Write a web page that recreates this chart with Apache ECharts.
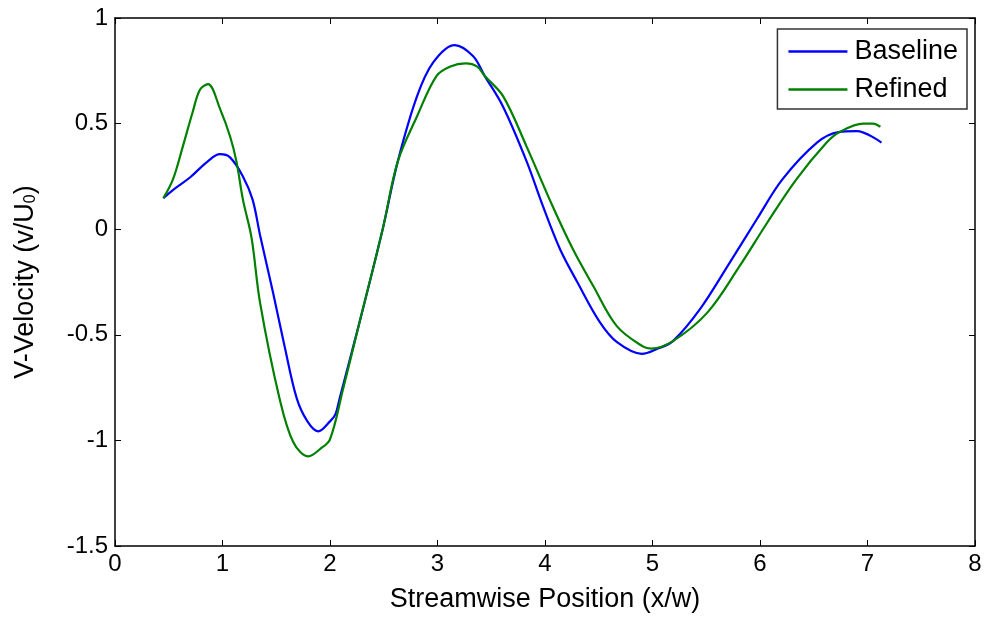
<!DOCTYPE html>
<html>
<head>
<meta charset="utf-8">
<script src="https://cdn.jsdelivr.net/npm/echarts@6/dist/echarts.min.js"></script>
<style>
  html, body { margin: 0; padding: 0; background: #fff; }
  #chart { width: 987px; height: 619px; }
</style>
</head>
<body>
<div id="chart"></div>
<script>
// streamwise position (x/w) and v-velocity
const baselineX = [0.45, 0.55, 0.70, 0.855, 0.977, 1.07, 1.19, 1.28, 1.35, 1.47, 1.58, 1.69, 1.79, 1.89, 2.0, 2.05, 2.09, 2.28, 2.49, 2.63, 2.81, 2.96, 3.16, 3.33, 3.44, 3.61, 3.83, 3.98, 4.14, 4.30, 4.51, 4.67, 4.90, 5.05, 5.19, 5.44, 5.72, 5.97, 6.21, 6.53, 6.73, 6.90, 7.13]
const baselineY = [0.147, 0.19, 0.246, 0.318, 0.355, 0.34, 0.25, 0.14, -0.03, -0.30, -0.56, -0.80, -0.91, -0.957, -0.91, -0.877, -0.80, -0.43, 0.0, 0.32, 0.63, 0.79, 0.872, 0.82, 0.725, 0.58, 0.32, 0.11, -0.095, -0.25, -0.44, -0.535, -0.59, -0.565, -0.53, -0.38, -0.157, 0.047, 0.237, 0.41, 0.46, 0.464, 0.41]

const refinedX = [0.45, 0.54, 0.63, 0.72, 0.79, 0.865, 0.977, 1.07, 1.13, 1.19, 1.27, 1.35, 1.53, 1.66, 1.80, 1.91, 2.0, 2.12, 2.28, 2.49, 2.63, 2.81, 2.99, 3.12, 3.26, 3.37, 3.44, 3.61, 3.83, 4.07, 4.26, 4.45, 4.67, 4.91, 4.99, 5.19, 5.51, 5.81, 6.07, 6.34, 6.62, 6.74, 6.96, 7.05, 7.12]
const refinedY = [0.147, 0.237, 0.39, 0.55, 0.66, 0.687, 0.57, 0.44, 0.32, 0.14, -0.04, -0.35, -0.80, -1.01, -1.076, -1.04, -0.995, -0.76, -0.43, 0.0, 0.32, 0.535, 0.725, 0.77, 0.785, 0.77, 0.725, 0.63, 0.39, 0.11, -0.095, -0.27, -0.46, -0.555, -0.565, -0.53, -0.395, -0.175, 0.033, 0.237, 0.41, 0.46, 0.50, 0.50, 0.485]

const xTicks = [0, 1, 2, 3, 4, 5, 6, 7, 8]
const yTicks = [-1.5, -1, -0.5, 0, 0.5, 1]

const zip = (xs, ys) => xs.map((x, i) => [x, ys[i]])

const chart = echarts.init(document.getElementById('chart'))

const font = 'Liberation Sans, Arial, sans-serif'
const boxLine = { show: true, onZero: false, lineStyle: { color: '#000', width: 1.5 } }
const inTick = { show: true, inside: true, length: 6, lineStyle: { color: '#000', width: 1 } }

chart.setOption({
  animation: false,
  grid: { left: 115, right: 12, top: 18, bottom: 73 },
  legend: {
    orient: 'vertical',
    right: 20,
    top: 29,
    data: ['Baseline', 'Refined'],
    icon: 'rect',
    backgroundColor: '#fff',
    borderColor: '#333',
    borderWidth: 1.5,
    borderRadius: 0,
    padding: [9, 9, 6, 11],
    itemWidth: 59,
    itemHeight: 2.5,
    itemGap: 11,
    textStyle: { fontFamily: font, fontSize: 27, color: '#000', padding: [0, 0, 0, 2] },
  },
  xAxis: [
    {
      type: 'value', min: 0, max: 8, interval: 1,
      name: 'Streamwise Position (x/w)',
      nameLocation: 'middle',
      nameGap: 40,
      nameTextStyle: { fontFamily: font, fontSize: 27, color: '#000' },
      axisLine: boxLine,
      axisTick: inTick,
      axisLabel: { fontFamily: font, fontSize: 24, color: '#000', margin: 6,
        formatter: v => xTicks.includes(v) ? String(v) : '' },
      splitLine: { show: false },
    },
    {
      type: 'value', min: 0, max: 8, interval: 1, position: 'top',
      axisLine: boxLine, axisTick: inTick, axisLabel: { show: false }, splitLine: { show: false },
    },
  ],
  yAxis: [
    {
      type: 'value', min: -1.5, max: 1, interval: 0.5,
      name: '{m|V-Velocity (v/U}{s|0}{m|)}',
      nameLocation: 'middle',
      nameGap: 76,
      nameTextStyle: {
        fontFamily: font, color: '#000',
        rich: {
          m: { fontFamily: font, fontSize: 27, color: '#000', lineHeight: 36, verticalAlign: 'bottom' },
          s: { fontFamily: font, fontSize: 16, color: '#000', lineHeight: 28, verticalAlign: 'bottom' },
        },
      },
      axisLine: boxLine,
      axisTick: inTick,
      axisLabel: { fontFamily: font, fontSize: 24, color: '#000', margin: 7,
        formatter: v => yTicks.includes(v) ? String(v) : '' },
      splitLine: { show: false },
    },
    {
      type: 'value', min: -1.5, max: 1, interval: 0.5, position: 'right',
      axisLine: boxLine, axisTick: inTick, axisLabel: { show: false }, splitLine: { show: false },
    },
  ],
  series: [
    {
      name: 'Baseline', type: 'line', data: zip(baselineX, baselineY),
      smooth: 0.35, symbol: 'none',
      lineStyle: { color: '#0000ff', width: 2.2 }, itemStyle: { color: '#0000ff' },
    },
    {
      name: 'Refined', type: 'line', data: zip(refinedX, refinedY),
      smooth: 0.35, symbol: 'none',
      lineStyle: { color: '#008000', width: 2.2 }, itemStyle: { color: '#008000' },
    },
  ],
})
</script>
</body>
</html>
